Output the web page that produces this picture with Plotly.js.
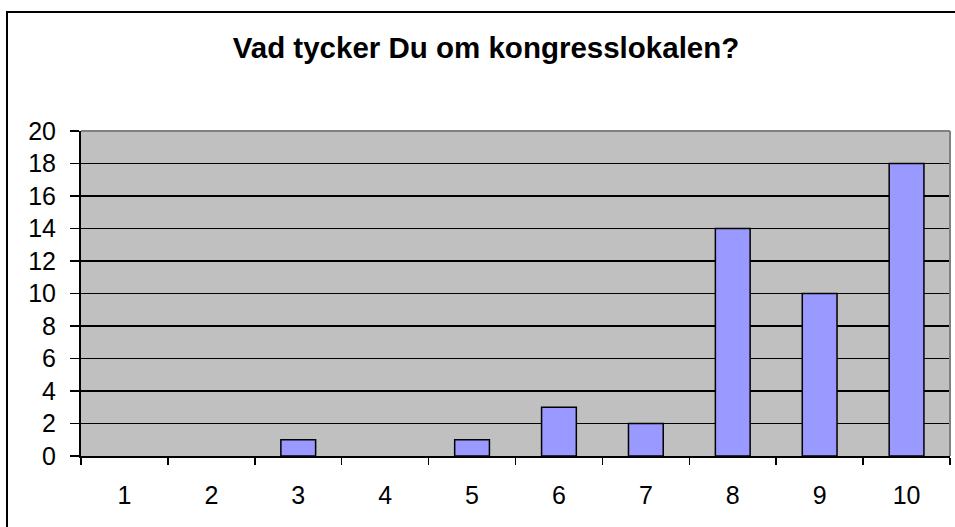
<!DOCTYPE html>
<html>
<head>
<meta charset="utf-8">
<script src="https://cdn.plot.ly/plotly-3.0.1.min.js"></script>
<style>html,body{margin:0;padding:0;background:#fff;}#chart{width:955px;height:527px;}</style>
</head>
<body>
<div id="chart"></div>
<script>
var categories = ["1","2","3","4","5","6","7","8","9","10"];
var values = [0,0,1,0,1,3,2,14,10,18];
var yTicks = [0,2,4,6,8,10,12,14,16,18,20];
var titleText = "Vad tycker Du om kongresslokalen?";

var trace = {
  type: "bar",
  x: categories,
  y: values,
  marker: {color: "#9999FF", line: {color: "#000000", width: values.map(function(v){ return v === 0 ? 0 : 1.5; })}},
  hoverinfo: "x+y"
};

var layout = {
  width: 955, height: 527,
  margin: {l: 81, r: 5, t: 131, b: 71},
  paper_bgcolor: "#FFFFFF",
  plot_bgcolor: "#C0C0C0",
  font: {family: "Liberation Sans, Arial, sans-serif", color: "#000000", size: 24},
  title: {
    text: "<b>" + titleText + "</b>",
    font: {family: "Liberation Sans, Arial, sans-serif", size: 29.5, color: "#000000"},
    xref: "container", x: 486/955, xanchor: "center",
    yref: "container", y: 1 - 48/527, yanchor: "middle"
  },
  bargap: 0.6,
  showlegend: false,
  xaxis: {
    type: "category",
    tickson: "boundaries",
    ticks: "outside", ticklen: 7, tickwidth: 1.5, tickcolor: "#000000",
    showline: true, linecolor: "#000000", linewidth: 2,
    showgrid: false, zeroline: false,
    ticklabelstandoff: 16,
    tickfont: {size: 25}
  },
  yaxis: {
    range: [0, 20],
    tickvals: yTicks,
    ticktext: yTicks.map(String),
    ticks: "outside", ticklen: 9, tickwidth: 1.5, tickcolor: "#000000",
    showline: true, linecolor: "#000000", linewidth: 2,
    showgrid: true, gridcolor: "#000000", gridwidth: 1.5,
    zeroline: false,
    ticklabelstandoff: 9,
    tickfont: {size: 25}
  },
  shapes: [
    {type: "line", xref: "paper", yref: "paper", x0: 0, x1: 1, y0: 1, y1: 1,
     line: {color: "#808080", width: 2}, layer: "above"},
    {type: "line", xref: "paper", yref: "paper", x0: 1, x1: 1, y0: 0, y1: 1,
     line: {color: "#808080", width: 2}, layer: "above"},
    {type: "rect", xref: "paper", yref: "paper",
     x0: (7 - 81) / 869, x1: 2, y0: -1, y1: (456 - 12) / 325,
     line: {color: "#000000", width: 2}, fillcolor: "rgba(0,0,0,0)", layer: "above"}
  ]
};

Plotly.newPlot("chart", [trace], layout, {displayModeBar: false, staticPlot: true});
</script>
</body>
</html>
